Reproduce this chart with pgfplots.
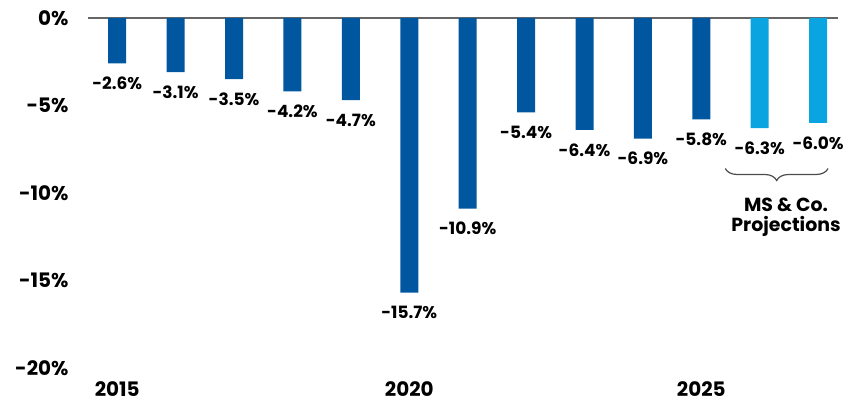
\documentclass[border=0pt]{standalone}
\usepackage{fontspec}
\setmainfont{Poppins}
\usepackage{pgfplots}
\pgfplotsset{compat=1.18}
\usetikzlibrary{calc,decorations.pathreplacing}
\definecolor{darkblue}{HTML}{0057A0}
\definecolor{lightblue}{HTML}{0AA4E0}
\begin{document}
\begin{tikzpicture}
\begin{axis}[
    name=ax,
    scale only axis,
    width=750bp, height=350bp,
    xmin=2014.5, xmax=2027.34,
    ymin=-20, ymax=0,
    ybar, bar width=18bp,
    axis line style={draw=none},
    major tick length=0pt,
    xtick={2015,2020,2025},
    ytick={0,-5,-10,-15,-20},
    /pgf/number format/assume math mode=true,
    xticklabel={\pgfmathprintnumber[1000 sep={}]{\tick}},
    yticklabel={\pgfmathprintnumber{\tick}\%},
    ticklabel style={font=\fontsize{20}{22}\selectfont\bfseries},
    xticklabel style={yshift=-10bp},
    yticklabel style={xshift=-16bp},
    nodes near coords={\pgfmathprintnumber[fixed,zerofill,precision=1]{\pgfplotspointmeta}\%},
    nodes near coords style={font=\fontsize{17}{19}\selectfont\bfseries, yshift=-10bp},
    clip=false,
]
\draw[gray!80!black, line width=1.5bp] (rel axis cs:0,1) -- (rel axis cs:1,1);
\addplot[fill=darkblue, draw=none, bar shift=0pt] coordinates {
    (2015,-2.6) (2016,-3.1) (2017,-3.5) (2018,-4.2) (2019,-4.7) (2020,-15.7)
    (2021,-10.9) (2022,-5.4) (2023,-6.4) (2024,-6.9) (2025,-5.8)
};
\addplot[fill=lightblue, draw=none, bar shift=0pt] coordinates {
    (2026,-6.3) (2027,-6.0)
};
\draw[decorate, decoration={brace, mirror, amplitude=12bp}, gray!60!black, line width=1.2bp]
    (axis cs:2025.41,-8.6) -- (axis cs:2027.17,-8.6);
\node[anchor=north, align=center, font=\fontsize{19}{20}\selectfont\bfseries]
    at (axis cs:2026.45,-10.1) {MS \& Co.\\Projections};
\end{axis}
\pgfresetboundingbox
\path ($(ax.south west)+(-88bp,-35bp)$) rectangle ($(ax.north east)+(6bp,18bp)$);
\end{tikzpicture}
\end{document}
